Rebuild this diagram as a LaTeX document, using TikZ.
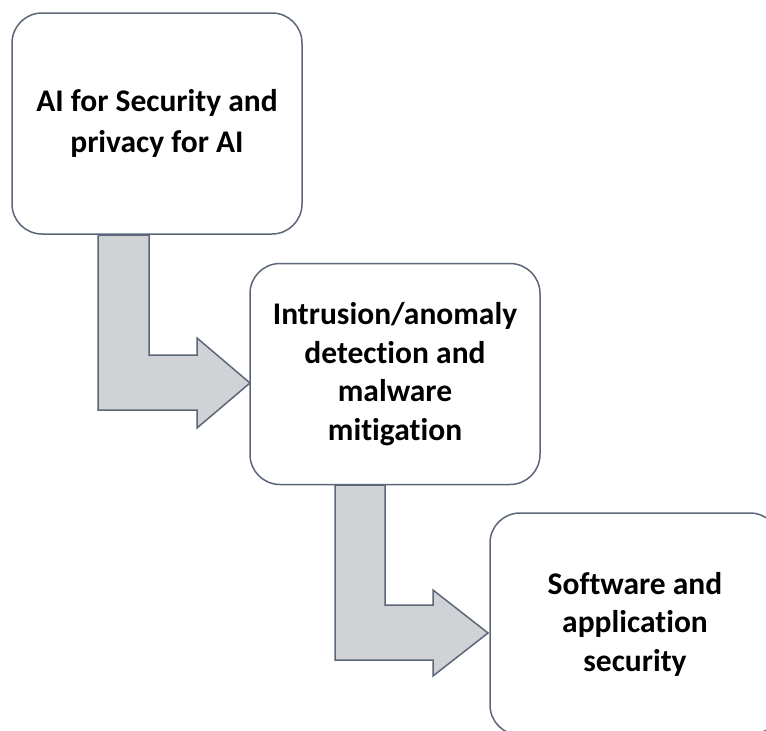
\documentclass[tikz,border=0pt]{standalone}
\usepackage{fontspec}
\setmainfont{Carlito}[Ligatures={NoCommon}]
\usetikzlibrary{calc}
\definecolor{edgecol}{HTML}{5B6779}
\definecolor{arrowfill}{HTML}{D0D2D6}
\begin{document}
\begin{tikzpicture}[x=1pt,y=-1pt,
  box/.style={draw=edgecol, line width=1.5pt, fill=white, rounded corners=30pt,
    align=center, font=\bfseries\fontsize{31.5}{38.5}\selectfont, inner sep=0pt,
    minimum width=290pt, minimum height=221pt},
  bentarrow/.style={draw=edgecol, line width=1.5pt, fill=arrowfill, line join=miter}]
\useasboundingbox (0,0) rectangle (766,731);
\clip (0,0) rectangle (766,731);
% bent arrows
\draw[bentarrow] (98,235) -- (149,235) -- (149,355) -- (197,355) -- (197,338)
  -- (250,383) -- (197,428) -- (197,410) -- (98,410) -- cycle;
\draw[bentarrow] (335,485) -- (385,485) -- (385,605) -- (433,605) -- (433,590)
  -- (488,633) -- (433,676) -- (433,660) -- (335,660) -- cycle;
% boxes
\node[box] (b1) at (157,123.5) {AI for Security and\\[2pt]privacy for AI};
\node[box] (b2) at (395,374) {Intrusion/anomaly\\detection and\\malware\\mitigation};
\node[box, minimum height=222pt] (b3) at (635,624) {Software and\\application\\security};
\end{tikzpicture}
\end{document}
